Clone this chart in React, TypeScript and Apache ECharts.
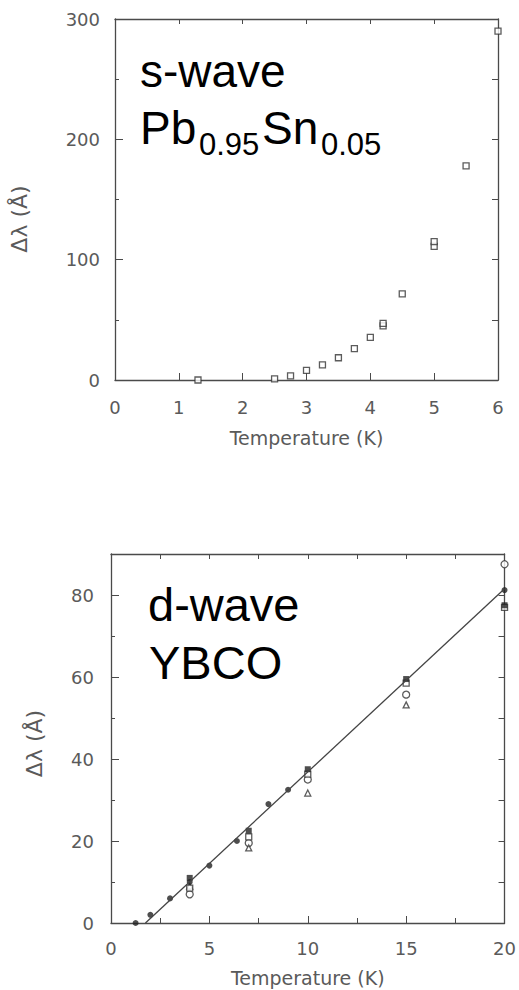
import React, { useEffect, useRef } from "react";
import * as echarts from "echarts";

// s-wave Pb0.95Sn0.05 (open squares)
const sWaveTemp = [1.3, 2.5, 2.75, 3.0, 3.25, 3.5, 3.75, 4.0, 4.2, 4.2, 4.5, 5.0, 5.0, 5.5, 6.0];
const sWaveDelta = [0, 1, 3.5, 8, 12.5, 18.5, 26, 35.5, 45, 47, 71.5, 111, 115, 178, 290];

// d-wave YBCO
const dDotTemp = [1.25, 2, 3, 4, 5, 6.4, 8, 9, 20];
const dDotDelta = [0, 2, 6, 10, 14, 20, 29, 32.5, 81.2];
const dFilledSqTemp = [4, 7, 10, 15, 20];
const dFilledSqDelta = [11, 22.5, 37.5, 59.5, 77.5];
const dOpenSqTemp = [4, 7, 10, 15, 20];
const dOpenSqDelta = [8.5, 21, 36.3, 58.5, 77];
const dOpenCircTemp = [4, 7, 10, 15, 20];
const dOpenCircDelta = [7, 19.5, 35, 55.7, 87.5];
const dTriTemp = [4, 7, 10, 15];
const dTriDelta = [9, 18.3, 31.7, 53.2];
const fitTemp = [1.75, 20];
const fitDelta = [0, 81.5];

const xName = "Temperature (K)";
const yName = "Δλ (Å)";

const zip = (a: number[], b: number[]) => a.map((v, i) => [v, b[i]]);

const AX = "#4a4a4a";
const LBL = "#5a5a5a";
const TICK_FONT = "DejaVu Sans";

function baseAxis(extra: any) {
  return {
    axisLine: { show: true, onZero: false, lineStyle: { color: AX, width: 1.3 } },
    splitLine: { show: false },
    axisLabel: { color: LBL, fontFamily: TICK_FONT, fontSize: 18 },
    nameTextStyle: { color: LBL, fontFamily: TICK_FONT, fontSize: 19 },
    ...extra,
  };
}

export default function App() {
  const ref = useRef<HTMLDivElement>(null);
  useEffect(() => {
    if (!ref.current) return;
    const chart = echarts.init(ref.current, null, { renderer: "svg" });
    const openStyle = { color: "#fff", borderColor: "#333", borderWidth: 1.3 };
    const option: any = {
      animation: false,
      backgroundColor: "#fff",
      grid: [
        { left: 112, top: 19, width: 386, height: 361 },
        { left: 111, top: 554, width: 395, height: 369 },
      ],
      xAxis: [
        baseAxis({
          gridIndex: 0, type: "value", min: 0, max: 6, interval: 1, position: "bottom",
          axisTick: { show: true, inside: true, length: 7, lineStyle: { color: AX } },
          axisLabel: { color: LBL, fontFamily: TICK_FONT, fontSize: 18, margin: 18 },
          name: xName, nameLocation: "middle", nameGap: 48,
        }),
        baseAxis({
          gridIndex: 0, type: "value", min: 0, max: 6, interval: 1, position: "top",
          axisTick: { show: true, inside: true, length: 5, lineStyle: { color: AX } },
          axisLabel: { show: false },
        }),
        baseAxis({
          gridIndex: 1, type: "value", min: 0, max: 20, interval: 5, position: "bottom",
          axisTick: { show: true, inside: true, length: 7, lineStyle: { color: AX } },
          minorTick: { show: true, splitNumber: 2, length: 5, lineStyle: { color: AX } },
          axisLabel: { color: LBL, fontFamily: TICK_FONT, fontSize: 18, margin: 16 },
          name: xName, nameLocation: "middle", nameGap: 45,
        }),
        baseAxis({
          gridIndex: 1, type: "value", min: 0, max: 20, interval: 2.5, position: "top",
          axisTick: { show: true, inside: true, length: 5, lineStyle: { color: AX } },
          axisLabel: { show: false },
        }),
      ],
      yAxis: [
        baseAxis({
          gridIndex: 0, type: "value", min: 0, max: 300, interval: 100, position: "left",
          axisTick: { show: true, inside: true, length: 8, lineStyle: { color: AX } },
          minorTick: { show: true, splitNumber: 2, length: 4, lineStyle: { color: AX } },
          axisLabel: { color: LBL, fontFamily: TICK_FONT, fontSize: 18, margin: 15 },
          name: yName, nameLocation: "middle", nameGap: 85,
          nameTextStyle: { color: LBL, fontFamily: TICK_FONT, fontSize: 22, padding: [0, 39, 0, 0] },
        }),
        baseAxis({
          gridIndex: 0, type: "value", min: 0, max: 300, interval: 50, position: "right",
          axisTick: { show: true, inside: true, length: 6, lineStyle: { color: AX } },
          axisLabel: { show: false },
        }),
        baseAxis({
          gridIndex: 1, type: "value", min: 0, max: 90, interval: 20, position: "left",
          axisTick: { show: true, inside: true, length: 8, lineStyle: { color: AX } },
          minorTick: { show: true, splitNumber: 2, length: 4, lineStyle: { color: AX } },
          axisLabel: { color: LBL, fontFamily: TICK_FONT, fontSize: 18, margin: 17, showMaxLabel: false },
          name: yName, nameLocation: "middle", nameGap: 66,
          nameTextStyle: { color: LBL, fontFamily: TICK_FONT, fontSize: 22, padding: [0, 10, 0, 0] },
        }),
        baseAxis({
          gridIndex: 1, type: "value", min: 0, max: 90, interval: 10, position: "right",
          axisTick: { show: true, inside: true, length: 6, lineStyle: { color: AX } },
          axisLabel: { show: false },
        }),
      ],
      series: [
        {
          type: "scatter", xAxisIndex: 0, yAxisIndex: 0, symbol: "rect", symbolSize: 6,
          itemStyle: openStyle, data: zip(sWaveTemp, sWaveDelta),
        },
        {
          type: "line", xAxisIndex: 2, yAxisIndex: 2, symbol: "none",
          lineStyle: { color: "#444", width: 1.3 }, data: zip(fitTemp, fitDelta),
        },
        {
          type: "scatter", xAxisIndex: 2, yAxisIndex: 2, symbol: "circle", symbolSize: 7,
          itemStyle: openStyle, data: zip(dOpenCircTemp, dOpenCircDelta),
        },
        {
          type: "scatter", xAxisIndex: 2, yAxisIndex: 2, symbol: "triangle", symbolSize: 6,
          itemStyle: openStyle, data: zip(dTriTemp, dTriDelta),
        },
        {
          type: "scatter", xAxisIndex: 2, yAxisIndex: 2, symbol: "rect", symbolSize: 6,
          itemStyle: openStyle, data: zip(dOpenSqTemp, dOpenSqDelta),
        },
        {
          type: "scatter", xAxisIndex: 2, yAxisIndex: 2, symbol: "rect", symbolSize: 6,
          itemStyle: { color: "#222" }, data: zip(dFilledSqTemp, dFilledSqDelta),
        },
        {
          type: "scatter", xAxisIndex: 2, yAxisIndex: 2, symbol: "circle", symbolSize: 6,
          itemStyle: { color: "#222" }, data: zip(dDotTemp, dDotDelta),
        },
      ],
      graphic: [
        { type: "text", x: 140, y: 70.8, style: { text: "s-wave", fontSize: 46, fontFamily: "Liberation Sans", fill: "#000", align: "left", verticalAlign: "middle" } },
        { type: "text", x: 140, y: 128.1, style: { text: "Pb", fontSize: 46, fontFamily: "Liberation Sans", fill: "#000", align: "left", verticalAlign: "middle" } },
        { type: "text", x: 199, y: 144.3, style: { text: "0.95", fontSize: 31, fontFamily: "Liberation Sans", fill: "#000", align: "left", verticalAlign: "middle" } },
        { type: "text", x: 262, y: 128.1, style: { text: "Sn", fontSize: 46, fontFamily: "Liberation Sans", fill: "#000", align: "left", verticalAlign: "middle" } },
        { type: "text", x: 321, y: 144.3, style: { text: "0.05", fontSize: 31, fontFamily: "Liberation Sans", fill: "#000", align: "left", verticalAlign: "middle" } },
        { type: "text", x: 148, y: 604.4, style: { text: "d-wave", fontSize: 47, fontFamily: "Liberation Sans", fill: "#000", align: "left", verticalAlign: "middle" } },
        { type: "text", x: 149, y: 662, style: { text: "YBCO", fontSize: 47, fontFamily: "Liberation Sans", fill: "#000", align: "left", verticalAlign: "middle" } },
      ],
    };
    chart.setOption(option);
    return () => chart.dispose();
  }, []);
  return (
    <div
      ref={ref}
      style={{ position: "fixed", left: 0, top: 0, width: 519, height: 990, background: "#fff" }}
    />
  );
}
